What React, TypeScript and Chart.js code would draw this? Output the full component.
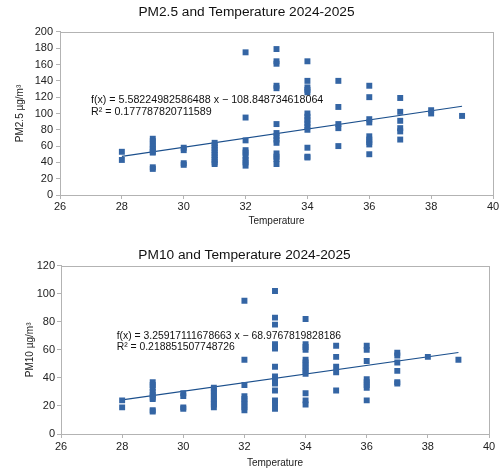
import React, { useEffect, useRef } from "react";
import { Chart, registerables } from "chart.js";

Chart.register(...registerables);

// ---- data ----
const temperatures = [28, 29, 30, 31, 32, 33, 34, 35, 36, 37, 38, 39];

const pm25ByTemp: number[][] = [
  [53, 43],
  [69, 66, 62, 59, 56, 53, 52, 34, 32],
  [58, 55, 39, 37],
  [64, 61, 58, 55, 52, 49, 46, 43, 40, 38],
  [175, 95, 67, 55, 52, 48, 43, 40, 36],
  [179, 164, 161, 134, 131, 87, 76, 72, 68, 64, 51, 47, 44, 38],
  [164, 140, 132, 129, 126, 100, 96, 92, 88, 84, 80, 58, 47, 46],
  [140, 108, 87, 82, 60],
  [134, 120, 93, 89, 72, 68, 65, 62, 50],
  [119, 102, 91, 82, 78, 68],
  [104, 100],
  [97],
];

const pm10ByTemp: number[][] = [
  [24, 19],
  [37, 35, 33, 30, 28, 26, 25, 17, 16],
  [29, 27, 19, 18],
  [33, 31, 29, 27, 25, 23, 21, 19],
  [95, 53, 35, 27, 25, 23, 21, 19, 17],
  [102, 83, 78, 64, 62, 61, 48, 41, 39, 37, 36, 31, 24, 22, 18],
  [82, 64, 62, 60, 53, 51, 49, 47, 45, 43, 29, 24, 21],
  [63, 55, 48, 44, 31],
  [63, 60, 52, 39, 37, 35, 33, 24],
  [58, 56, 51, 45, 37, 36],
  [55],
  [53],
];

const trendX = [28, 39];
const pm25TrendY = [47.45, 108.86];
const pm10TrendY = [24.28, 58.13];

const pm25Equation = ["f(x) = 5.58224982586488 x \u2212 108.848734618064", "R\u00b2 = 0.177787820711589"];
const pm10Equation = ["f(x) = 3.25917111678663 x \u2212 68.9767819828186", "R\u00b2 = 0.218851507748726"];

const xTicks = [26, 28, 30, 32, 34, 36, 38, 40];

const FONT = "'Liberation Sans', Arial, sans-serif";
const POINT_COLOR = "#3465a4";
const LINE_COLOR = "#1b4f8c";
const AXIS_COLOR = "#b3b3b3";

function toPoints(byTemp: number[][]) {
  const pts: { x: number; y: number }[] = [];
  byTemp.forEach((vals, i) => vals.forEach((v) => pts.push({ x: temperatures[i], y: v })));
  return pts;
}

type Cfg = {
  title: string;
  yTitle: string;
  points: { x: number; y: number }[];
  trendY: number[];
  yMax: number;
  equation: string[];
  eqX: number;
  eqY: number;
  eqFont: number;
  titlePadTop: number;
  titlePadBottom: number;
  padRight: number;
  yWidth: number;
  yTitlePad: number;
  yTickPad: number;
  xHeight: number;
  xTitlePad: number;
  xTickPad: number;
  height: number;
};

function ScatterChart({ cfg }: { cfg: Cfg }) {
  const ref = useRef<HTMLCanvasElement | null>(null);
  useEffect(() => {
    if (!ref.current) return;
    const framePlugin = {
      id: "frame",
      beforeDatasetsDraw(chart: any) {
        const { ctx, chartArea } = chart;
        ctx.save();
        ctx.strokeStyle = AXIS_COLOR;
        ctx.lineWidth = 1;
        ctx.strokeRect(
          Math.round(chartArea.left) + 0.5,
          Math.round(chartArea.top) + 0.5,
          Math.round(chartArea.right - chartArea.left),
          Math.round(chartArea.bottom - chartArea.top)
        );
        ctx.restore();
      },
      afterDatasetsDraw(chart: any) {
        const { ctx } = chart;
        const px = chart.scales.x.getPixelForValue(cfg.eqX);
        const py = chart.scales.y.getPixelForValue(cfg.eqY);
        ctx.save();
        ctx.fillStyle = "#111";
        ctx.font = `${cfg.eqFont}px ${FONT}`;
        ctx.textAlign = "left";
        ctx.textBaseline = "middle";
        cfg.equation.forEach((line, i) => ctx.fillText(line, px, py + i * 11.5));
        ctx.restore();
      },
    };
    const chart = new Chart(ref.current, {
      type: "scatter",
      data: {
        datasets: [
          {
            label: "data",
            data: cfg.points,
            pointStyle: "rect",
            pointRadius: 4.2,
            pointBackgroundColor: POINT_COLOR,
            pointBorderColor: POINT_COLOR,
            pointBorderWidth: 0,
            showLine: false,
          },
          {
            label: "trend",
            data: trendX.map((x, i) => ({ x, y: cfg.trendY[i] })),
            showLine: true,
            borderColor: LINE_COLOR,
            borderWidth: 1.2,
            pointRadius: 0,
            fill: false,
          },
        ],
      },
      options: {
        responsive: false,
        animation: false,
        layout: { padding: { left: 0, right: cfg.padRight, top: 0, bottom: 0 } },
        plugins: {
          legend: { display: false },
          tooltip: { enabled: false },
          title: {
            display: true,
            text: cfg.title,
            color: "#111",
            font: { family: FONT, size: 13.7, weight: "normal" },
            padding: { top: cfg.titlePadTop, bottom: cfg.titlePadBottom },
          },
        },
        scales: {
          x: {
            type: "linear",
            min: 26,
            max: 40,
            afterBuildTicks: (axis: any) => {
              axis.ticks = xTicks.map((v) => ({ value: v }));
            },
            afterFit: (axis: any) => {
              axis.height = cfg.xHeight;
            },
            grid: { drawOnChartArea: false, drawTicks: true, tickLength: 4, color: AXIS_COLOR },
            border: { display: true, color: AXIS_COLOR },
            ticks: { color: "#222", font: { family: FONT, size: 11 }, padding: cfg.xTickPad, maxRotation: 0 },
            title: {
              display: true,
              text: "Temperature",
              color: "#222",
              font: { family: FONT, size: 10 },
              padding: { top: 0, bottom: cfg.xTitlePad },
            },
          },
          y: {
            type: "linear",
            min: 0,
            max: cfg.yMax,
            ticks: { stepSize: 20, color: "#222", font: { family: FONT, size: 11 }, padding: cfg.yTickPad },
            afterFit: (axis: any) => {
              axis.width = cfg.yWidth;
            },
            grid: { drawOnChartArea: false, drawTicks: true, tickLength: 4, color: AXIS_COLOR },
            border: { display: true, color: AXIS_COLOR },
            title: {
              display: true,
              text: cfg.yTitle,
              color: "#222",
              font: { family: FONT, size: 10 },
              padding: { top: cfg.yTitlePad, bottom: 0 },
            },
          },
        },
      },
      plugins: [framePlugin],
    } as any);
    return () => chart.destroy();
  }, [cfg]);
  return <canvas ref={ref} width={502} height={cfg.height} style={{ display: "block", width: 502, height: cfg.height }} />;
}

const cfg25: Cfg = {
  title: "PM2.5 and Temperature 2024-2025",
  yTitle: "PM2.5 \u00b5g/m\u00b3",
  points: toPoints(pm25ByTemp),
  trendY: pm25TrendY,
  yMax: 200,
  equation: pm25Equation,
  eqX: 27.0,
  eqY: 116,
  eqFont: 10.7,
  titlePadTop: 4,
  titlePadBottom: 11.5,
  padRight: 9,
  yWidth: 60,
  yTitlePad: 14,
  yTickPad: 3,
  xHeight: 40,
  xTitlePad: 8,
  xTickPad: 1,
  height: 235,
};

const cfg10: Cfg = {
  title: "PM10 and Temperature 2024-2025",
  yTitle: "PM10 \u00b5g/m\u00b3",
  points: toPoints(pm10ByTemp),
  trendY: pm10TrendY,
  yMax: 120,
  equation: pm10Equation,
  eqX: 27.82,
  eqY: 70,
  eqFont: 10.4,
  titlePadTop: 11.8,
  titlePadBottom: 2.5,
  padRight: 13,
  yWidth: 61,
  yTitlePad: 24,
  yTickPad: 2,
  xHeight: 35,
  xTitlePad: 0,
  xTickPad: 2,
  height: 234,
};

export default function App() {
  return (
    <div style={{ position: "absolute", left: 0, top: 0, width: 502, height: 469, background: "#fff" }}>
      <ScatterChart cfg={cfg25} />
      <ScatterChart cfg={cfg10} />
    </div>
  );
}
